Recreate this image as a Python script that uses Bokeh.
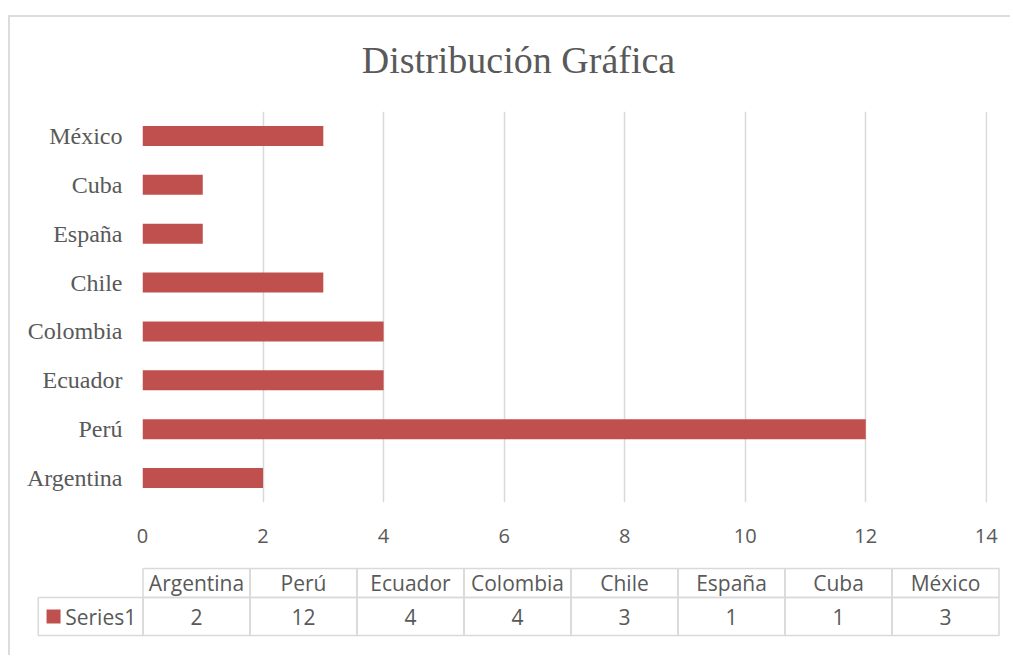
from bokeh.plotting import figure
from bokeh.models import Range1d, FactorRange
from bokeh.embed import file_html
from bokeh.resources import INLINE
from bokeh.core.properties import value

# ---- data ----
countries = ["Argentina", "Perú", "Ecuador", "Colombia", "Chile", "España", "Cuba", "México"]
counts = [2, 12, 4, 4, 3, 1, 1, 3]
series_name = "Series1"
title_text = "Distribución Gráfica"
x_ticks = [0, 2, 4, 6, 8, 10, 12, 14]

# ---- style ----
BAR = "#C0504D"
TXT = "#595959"
GRID = "#D9D9D9"
SERIF = "Liberation Serif"
SANS = "Open Sans"

W = 1002
H0 = 80
H1 = 463
H2 = 97
FRAME_LEFT = 132
FRAME_RIGHT_BORDER = 25
TABLE_LEFT = 132.5
COL_W = 107.0
BORDER = "2px solid #DCDCDC"


def bare(fig):
    fig.xgrid.grid_line_color = None
    fig.ygrid.grid_line_color = None
    fig.outline_line_color = None


# ---- title strip ----
h = figure(width=W, height=H0, x_range=Range1d(0, W), y_range=Range1d(H0, 0),
           output_backend="svg", toolbar_location=None,
           x_axis_type=None, y_axis_type=None,
           min_border_left=0, min_border_right=0, min_border_top=0, min_border_bottom=0,
           margin=(15, 0, 0, 8),
           styles={"border-top": BORDER, "border-left": BORDER})
bare(h)
h.text(x=[508], y=[42], text=[title_text], text_align="center", text_baseline="middle",
       text_font=value(SERIF), text_font_size="38px", text_color=TXT)

# ---- main bar chart ----
p = figure(width=W, height=H1,
           y_range=FactorRange(factors=countries),
           x_range=Range1d(0, x_ticks[-1] + 0.02),
           output_backend="svg", toolbar_location=None,
           min_border_left=FRAME_LEFT, min_border_right=FRAME_RIGHT_BORDER,
           min_border_top=16, min_border_bottom=56,
           margin=(0, 0, 0, 8),
           styles={"border-left": BORDER})
p.hbar(y=countries, right=counts, left=0, height=0.41, fill_color=BAR, line_color=None)

p.xaxis.ticker = x_ticks
p.xaxis.axis_line_color = None
p.xaxis.major_tick_line_color = None
p.xaxis.minor_tick_line_color = None
p.xaxis.major_tick_out = 0
p.xaxis.major_tick_in = 0
p.xaxis.major_label_standoff = 26
p.xaxis.major_label_text_font = SANS
p.xaxis.major_label_text_font_size = "20px"
p.xaxis.major_label_text_color = TXT

p.yaxis.axis_line_color = None
p.yaxis.major_tick_line_color = None
p.yaxis.minor_tick_line_color = None
p.yaxis.major_tick_out = 0
p.yaxis.major_tick_in = 0
p.yaxis.major_label_standoff = 20
p.yaxis.major_label_text_font = SERIF
p.yaxis.major_label_text_font_size = "24px"
p.yaxis.major_label_text_color = TXT

p.xgrid.grid_line_color = GRID
p.xgrid.grid_line_width = 1.5
p.ygrid.grid_line_color = None
p.outline_line_color = None

# ---- data table ----
n = len(countries)
t = figure(width=W, height=H2,
           x_range=Range1d(-TABLE_LEFT / COL_W, (W - TABLE_LEFT) / COL_W),
           y_range=Range1d(H2, 0),
           output_backend="svg", toolbar_location=None,
           x_axis_type=None, y_axis_type=None,
           min_border_left=0, min_border_right=0,
           min_border_top=0, min_border_bottom=0,
           margin=(0, 0, 0, 8),
           styles={"border-left": BORDER})
bare(t)

hdr_top, hdr_bot, val_bot = 10.0, 39.0, 77.0
idx = list(range(n))
t.quad(left=idx, right=[i + 1 for i in idx], top=[hdr_top] * n, bottom=[hdr_bot] * n,
       fill_color=None, line_color=GRID, line_width=1.5)
t.quad(left=[-0.979] + idx, right=[0] + [i + 1 for i in idx],
       top=[hdr_bot] * (n + 1), bottom=[val_bot] * (n + 1),
       fill_color=None, line_color=GRID, line_width=1.5)

t.text(x=[i + 0.5 for i in idx], y=[(hdr_top + hdr_bot) / 2] * n, text=countries,
       text_align="center", text_baseline="middle",
       text_font=value(SANS), text_font_size="21px", text_color=TXT)
t.text(x=[i + 0.5 for i in idx], y=[(hdr_bot + val_bot) / 2] * n, text=[str(c) for c in counts],
       text_align="center", text_baseline="middle",
       text_font=value(SANS), text_font_size="21px", text_color=TXT)
t.scatter(x=[-0.836], y=[(hdr_bot + val_bot) / 2], marker="square", size=14,
          fill_color=BAR, line_color=None)
t.text(x=[-0.727], y=[(hdr_bot + val_bot) / 2], text=[series_name],
       text_align="left", text_baseline="middle",
       text_font=value(SANS), text_font_size="21px", text_color=TXT)

open("out.html", "w").write(file_html([h, p, t], INLINE))
